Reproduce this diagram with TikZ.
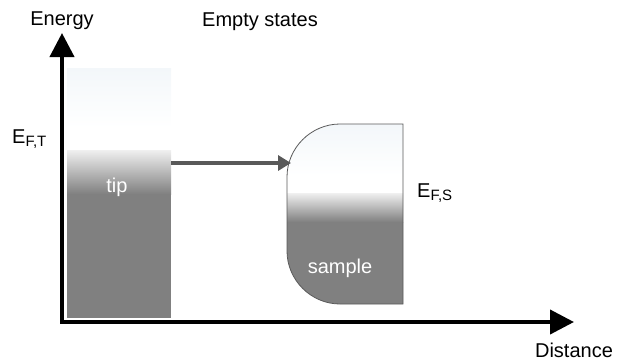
\documentclass[tikz,border=0pt]{standalone}
\usepackage{fontspec}
\setmainfont{Liberation Sans}
\usetikzlibrary{arrows.meta}
\definecolor{dgray}{HTML}{808080}
\definecolor{lblue}{HTML}{F3F7FA}
\definecolor{lgray}{HTML}{F0F0F0}
\definecolor{arrgray}{HTML}{595959}
\definecolor{edgegray}{HTML}{5A5A5A}
\tikzset{
  lbl/.style={font=\fontsize{20}{22}\selectfont, inner sep=0pt},
  inlbl/.style={lbl, text=white},
  axis/.style={line width=4pt, -{Triangle[length=24pt,width=24pt]}},
  tunnel/.style={line width=4pt, draw=arrgray, -{Triangle[length=13pt,width=15pt]}, shorten >=-1pt}
}
\begin{document}
\begin{tikzpicture}[x=1pt,y=-1pt]
\useasboundingbox (0,0) rectangle (619,360);
% tip
\shade[top color=lblue, bottom color=white] (67,68) rectangle (171,128);
\fill[white] (67,127.5) rectangle (171,150.5);
\shade[top color=lgray, bottom color=dgray] (67,150) rectangle (171,194);
\fill[dgray] (67,193.5) rectangle (171,318);
\node[inner sep=0pt, minimum width=104pt, minimum height=250pt] (tip) at (119,193) {};
\node[inlbl] (tiplbl) at (117,187) {tip};
% sample
\begin{scope}
\clip (340,124) -- (403,124) -- (403,304) -- (340,304) .. controls (311,304) and (287,280) .. (287,251) -- (287,177) .. controls (287,148) and (311,124) .. (340,124) -- cycle;
\fill[white] (280,120) rectangle (410,194);
\shade[top color=lblue, bottom color=white] (280,124) rectangle (410,176);
\shade[top color=lgray, bottom color=dgray] (280,193) rectangle (410,222);
\fill[dgray] (280,221.5) rectangle (410,310);
\end{scope}
\draw[edgegray, line width=0.8pt] (340,124) -- (403,124) -- (403,304) -- (340,304) .. controls (311,304) and (287,280) .. (287,251) -- (287,177) .. controls (287,148) and (311,124) .. (340,124) -- cycle;
\coordinate (sampin) at (290,163);
\node[inlbl] (samplbl) at (340,268) {sample};
% tunnelling arrow
\coordinate (tipout) at (171,163);
\draw[tunnel] (tipout) -- (sampin);
% axes
\coordinate (origin) at (62,322);
\coordinate (ytop) at (62,33);
\coordinate (xend) at (574,322);
\draw[axis] ([yshift=2pt]origin) -- (ytop);
\draw[axis] ([xshift=-2pt]origin) -- (xend);
% labels
\node[lbl] (energy) at (62,21) {Energy};
\node[lbl] (empty) at (260,22) {Empty states};
\node[lbl] (distance) at (574,350) {Distance};
\node[lbl, anchor=base west] (eft) at (12,143) {E\textsubscript{\fontsize{15}{16}\selectfont F,T}};
\node[lbl, anchor=base west] (efs) at (417,197) {E\textsubscript{\fontsize{15}{16}\selectfont F,S}};
\end{tikzpicture}
\end{document}
